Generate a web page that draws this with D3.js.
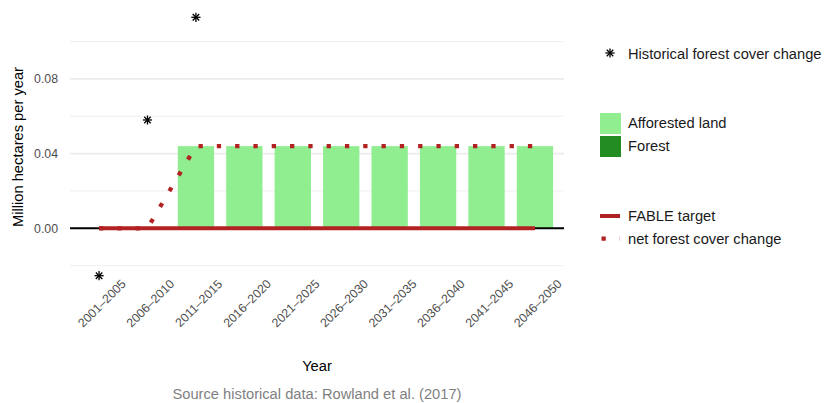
<!DOCTYPE html>
<html>
<head>
<meta charset="utf-8">
<script src="https://cdn.jsdelivr.net/npm/d3@7"></script>
<style>
  html, body { margin: 0; padding: 0; background: #fff; }
  svg { display: block; font-family: "Liberation Sans", Arial, Helvetica, sans-serif; }
</style>
</head>
<body>
<svg id="chart" width="824" height="403"></svg>
<script>
const categories = ["2001–2005","2006–2010","2011–2015","2016–2020","2021–2025","2026–2030","2031–2035","2036–2040","2041–2045","2046–2050"];
const historical = [-0.0254, 0.058, 0.113, null, null, null, null, null, null, null];
const afforested = [0, 0, 0.044, 0.044, 0.044, 0.044, 0.044, 0.044, 0.044, 0.044];
const forest = [0, 0, 0, 0, 0, 0, 0, 0, 0, 0];
const fableTarget = [0, 0, 0, 0, 0, 0, 0, 0, 0, 0];
const netChange = [0, 0, 0.044, 0.044, 0.044, 0.044, 0.044, 0.044, 0.044, 0.044];
const yTicks = [0.00, 0.04, 0.08];
const yMinor = [-0.02, 0.02, 0.06, 0.10];

const RED = "#b22222", LIGHT = "#90ee90", DARK = "#228b22";
const svg = d3.select("#chart");

const panel = {left: 70, right: 564, top: 4.4, bottom: 288.6};
const x = d3.scalePoint().domain(categories).range([panel.left, panel.right]).padding(0.6);
const step = x.step();
const y = d3.scaleLinear().domain([-0.0323, 0.1199]).range([panel.bottom, panel.top]);

// gridlines
svg.append("g").selectAll("line").data(yMinor).join("line")
  .attr("x1", panel.left).attr("x2", panel.right)
  .attr("y1", d => y(d)).attr("y2", d => y(d))
  .attr("stroke", "#ebebeb").attr("stroke-width", 0.8);
svg.append("g").selectAll("line").data(yTicks).join("line")
  .attr("x1", panel.left).attr("x2", panel.right)
  .attr("y1", d => y(d)).attr("y2", d => y(d))
  .attr("stroke", "#ebebeb").attr("stroke-width", 1.6);

// y axis labels
const yAxis = d3.axisLeft(y).tickValues(yTicks).tickFormat(d3.format(".2f")).tickSize(0).tickPadding(0);
const ya = svg.append("g").attr("transform", `translate(58,0)`).call(yAxis);
ya.select(".domain").remove();
ya.selectAll("text").attr("fill", "#4d4d4d").attr("font-size", 12.3).attr("font-family", "Liberation Sans, Arial, sans-serif");

// stacked bars
const bw = step * 0.75;
const barG = svg.append("g");
categories.forEach((c, i) => {
  const a = afforested[i], f = forest[i];
  if (a > 0) barG.append("rect").attr("x", x(c) - bw/2).attr("width", bw)
    .attr("y", y(a)).attr("height", y(0) - y(a)).attr("fill", LIGHT);
  if (f > 0) barG.append("rect").attr("x", x(c) - bw/2).attr("width", bw)
    .attr("y", y(a + f)).attr("height", y(a) - y(a + f)).attr("fill", DARK);
});

// zero line
svg.append("line").attr("x1", panel.left).attr("x2", panel.right)
  .attr("y1", y(0)).attr("y2", y(0)).attr("stroke", "#000").attr("stroke-width", 2);

// FABLE target line
const line = d3.line().x((d, i) => x(categories[i])).y(d => y(d));
svg.append("path").datum(fableTarget).attr("d", line)
  .attr("fill", "none").attr("stroke", RED).attr("stroke-width", 4);

// net forest cover change (dotted)
svg.append("path").datum(netChange).attr("d", line)
  .attr("fill", "none").attr("stroke", RED).attr("stroke-width", 4.3)
  .attr("stroke-dasharray", "4.3,14");

// asterisk symbol
function asterisk(g, cx, cy, r) {
  [0, 45, 90, 135].forEach(a => {
    const rad = a * Math.PI / 180;
    g.append("line")
      .attr("x1", cx - r * Math.cos(rad)).attr("y1", cy - r * Math.sin(rad))
      .attr("x2", cx + r * Math.cos(rad)).attr("y2", cy + r * Math.sin(rad))
      .attr("stroke", "#000").attr("stroke-width", 1.3);
  });
}
const hg = svg.append("g");
categories.forEach((c, i) => {
  if (historical[i] != null) asterisk(hg, x(c), y(historical[i]), 4.6);
});

// x tick labels
svg.append("g").selectAll("text").data(categories).join("text")
  .attr("transform", d => `translate(${x(d) + 3},303.5) rotate(-45)`)
  .attr("text-anchor", "middle").attr("dominant-baseline", "central")
  .attr("fill", "#4d4d4d").attr("font-size", 12.3)
  .text(d => d);

// axis titles
svg.append("text").attr("transform", `translate(18,147) rotate(-90)`)
  .attr("text-anchor", "middle").attr("dominant-baseline", "central")
  .attr("font-size", 14.7).attr("fill", "#000").text("Million hectares per year");
svg.append("text").attr("x", (panel.left + panel.right) / 2).attr("y", 366)
  .attr("text-anchor", "middle").attr("dominant-baseline", "central")
  .attr("font-size", 14.7).attr("fill", "#000").text("Year");
svg.append("text").attr("x", (panel.left + panel.right) / 2).attr("y", 394)
  .attr("text-anchor", "middle").attr("dominant-baseline", "central")
  .attr("font-size", 14.7).attr("fill", "#7f7f7f").text("Source historical data: Rowland et al. (2017)");

// legend
const lg = svg.append("g");
const lx = 600, tx = 628;
function ltext(yv, t) {
  lg.append("text").attr("x", tx).attr("y", yv).attr("dominant-baseline", "central")
    .attr("font-size", 14.7).attr("fill", "#1a1a1a").text(t);
}
asterisk(lg, 610, 53, 4.6);
ltext(54, "Historical forest cover change");
lg.append("rect").attr("x", lx).attr("y", 113).attr("width", 21).attr("height", 21).attr("fill", LIGHT);
lg.append("rect").attr("x", lx).attr("y", 136).attr("width", 21).attr("height", 21).attr("fill", DARK);
ltext(123, "Afforested land");
ltext(146, "Forest");
lg.append("line").attr("x1", lx).attr("x2", 620).attr("y1", 216).attr("y2", 216)
  .attr("stroke", RED).attr("stroke-width", 4);
ltext(216, "FABLE target");
lg.append("line").attr("x1", lx + 1.5).attr("x2", 620).attr("y1", 238.7).attr("y2", 238.7)
  .attr("stroke", RED).attr("stroke-width", 4.3).attr("stroke-dasharray", "4.3,14");
ltext(239, "net forest cover change");
</script>
</body>
</html>
